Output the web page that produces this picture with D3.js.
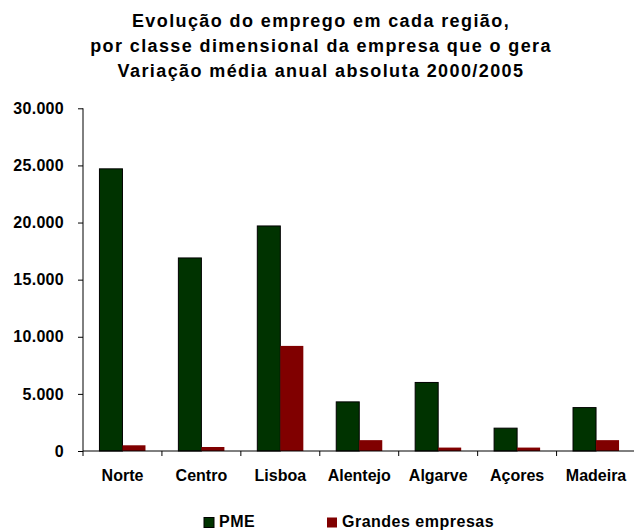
<html>
  <head>
    <script src="https://d3js.org/d3.v7.min.js"></script>
    <style>
      body {
        margin: 0;
        background: #fff;
      }
      text {
        font-family: "Liberation Sans", Arial, sans-serif;
        font-weight: bold;
        fill: #000;
      }
    </style>
  </head>

  <body>
    <svg id="chart" width="634" height="531"></svg>

    <script>
      // data
      const regioes = ["Norte", "Centro", "Lisboa", "Alentejo", "Algarve", "Açores", "Madeira"];
      const series = ["PME", "Grandes empresas"];
      const pme = [24700, 16900, 19700, 4300, 6000, 2000, 3800];
      const grandes = [500, 350, 9200, 950, 300, 300, 950];
      const yTicks = [0, 5000, 10000, 15000, 20000, 25000, 30000];
      const titulo = [
        "Evolução do emprego em cada região,",
        "por classe dimensional da empresa que o gera",
        "Variação média anual absoluta 2000/2005",
      ];
      const cores = { PME: "#003300", "Grandes empresas": "#800000" };

      const data = regioes.map((r, i) => ({ regiao: r, PME: pme[i], "Grandes empresas": grandes[i] }));

      const svg = d3.select("svg#chart");

      const mLeft = 83,
        mRight = 635.5,
        mTop = 108.3,
        mBottom = 451;

      const x0 = d3.scaleBand().domain(regioes).range([mLeft, mRight]);
      const x1 = d3
        .scaleBand()
        .domain(series)
        .range([0, x0.bandwidth()])
        .paddingOuter(0.715);
      const y = d3.scaleLinear().domain([0, 30000]).range([mBottom, mTop]);

      const pt = d3.formatLocale({ decimal: ",", thousands: ".", grouping: [3], currency: ["", ""] });
      const fmt = pt.format(",");

      // title
      svg
        .append("g")
        .selectAll("text")
        .data(titulo)
        .join("text")
        .attr("x", 321)
        .attr("y", (d, i) => 27 + i * 25)
        .attr("text-anchor", "middle")
        .style("font-size", "18px")
        .style("letter-spacing", "1.4px")
        .text((d) => d);

      // bars
      const groups = svg
        .append("g")
        .selectAll("g")
        .data(data)
        .join("g")
        .attr("transform", (d) => `translate(${x0(d.regiao)},0)`);

      groups
        .selectAll("rect")
        .data((d) => series.map((s) => ({ s: s, v: d[s] })))
        .join("rect")
        .attr("x", (d) => x1(d.s))
        .attr("y", (d) => y(d.v))
        .attr("width", x1.bandwidth())
        .attr("height", (d) => mBottom - y(d.v))
        .attr("fill", (d) => cores[d.s])
        .attr("stroke", (d) => (d.s == "PME" ? "#000" : "none"))
        .attr("stroke-width", 1);

      // y axis
      const yAxis = d3
        .axisLeft(y)
        .tickValues(yTicks)
        .tickFormat(fmt)
        .tickSize(5)
        .tickPadding(14);
      const gy = svg.append("g").attr("transform", `translate(${mLeft},0)`).call(yAxis);
      gy.select(".domain").attr("d", `M0,${mTop}V${mBottom + 5}`).attr("stroke", "#000");
      gy.selectAll("text")
        .style("font-size", "16px")
        .style("letter-spacing", "0.3px")
        .style("font-family", '"Liberation Sans", Arial, sans-serif');

      // x axis baseline and category ticks
      const xAxis = d3.axisBottom(x0).tickSize(0).tickPadding(19);
      const gx = svg.append("g").attr("transform", `translate(0,${mBottom})`).call(xAxis);
      gx.select(".domain").attr("d", `M${mLeft},0H${mRight}`).attr("stroke", "#000");
      gx.selectAll("text")
        .style("font-size", "16px")
        .style("font-family", '"Liberation Sans", Arial, sans-serif');

      svg
        .append("g")
        .selectAll("line")
        .data(regioes.slice(1))
        .join("line")
        .attr("x1", (d) => x0(d))
        .attr("x2", (d) => x0(d))
        .attr("y1", mBottom)
        .attr("y2", mBottom + 5)
        .attr("stroke", "#000");

      // legend
      const legX = [204, 327];
      const leg = svg
        .append("g")
        .selectAll("g")
        .data(series)
        .join("g")
        .attr("transform", (d, i) => `translate(${legX[i]},517.5)`);
      leg
        .append("rect")
        .attr("width", 10)
        .attr("height", 10)
        .attr("fill", (d) => cores[d])
        .attr("stroke", (d) => (d == "PME" ? "#000" : "none"));
      leg
        .append("text")
        .attr("x", 15)
        .attr("y", 9.5)
        .style("font-size", "16px")
        .style("letter-spacing", "0.5px")
        .text((d) => d);
    </script>
  </body>
</html>
